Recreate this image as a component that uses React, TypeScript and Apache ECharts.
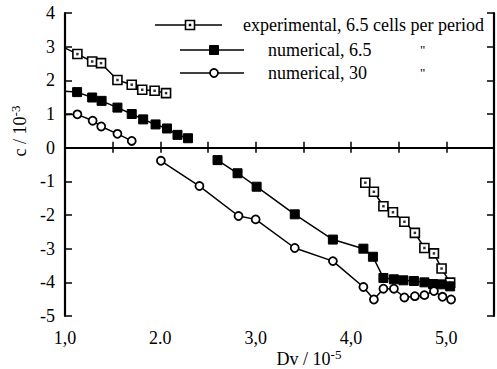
import React, { useEffect, useRef } from "react";
import * as echarts from "echarts";

// Dv / 10^-5 (x) and c / 10^-3 (y)
const expUpper: number[][] = [
  [0.95, 3.03], [1.13, 2.78], [1.285, 2.56], [1.378, 2.51], [1.55, 2.01],
  [1.7, 1.87], [1.81, 1.72], [1.94, 1.69], [2.06, 1.62],
];
const expLower: number[][] = [
  [4.15, -1.04], [4.24, -1.31], [4.34, -1.74], [4.44, -1.92], [4.56, -2.2],
  [4.67, -2.53], [4.77, -2.98], [4.87, -3.14], [4.95, -3.59], [5.04, -4.01],
];
const num65Upper: number[][] = [
  [0.95, 1.68], [1.127, 1.65], [1.285, 1.49], [1.384, 1.39], [1.55, 1.19],
  [1.7, 1.0], [1.82, 0.84], [1.95, 0.69], [2.07, 0.57], [2.18, 0.38], [2.29, 0.28],
];
const num65Lower: number[][] = [
  [2.6, -0.37], [2.81, -0.76], [3.01, -1.16], [3.41, -1.98], [3.81, -2.73],
  [4.13, -3.0], [4.23, -3.24], [4.34, -3.87], [4.45, -3.91], [4.55, -3.94],
  [4.66, -3.96], [4.77, -4.0], [4.86, -4.05], [4.95, -4.06], [5.04, -4.12],
];
const num30Upper: number[][] = [
  [0.95, 0.97], [1.13, 0.99], [1.29, 0.8], [1.38, 0.63], [1.55, 0.41], [1.7, 0.2],
];
const num30Lower: number[][] = [
  [2.006, -0.39], [2.41, -1.14], [2.82, -2.03], [3.0, -2.13], [3.41, -2.98],
  [3.81, -3.37], [4.13, -4.14], [4.24, -4.51], [4.34, -4.19], [4.45, -4.19],
  [4.56, -4.45], [4.67, -4.41], [4.77, -4.38], [4.87, -4.26], [4.96, -4.43], [5.05, -4.51],
];
const xTickLabels: Record<string, string> = { "1": "1,0", "2": "2.0", "3": "3,0", "4": "4,0", "5": "5,0" };
const legendNames = ["experimental, 6.5 cells per period", "numerical, 6.5", "numerical, 30"];

const FONT = "Liberation Serif";

export default function App() {
  const ref = useRef<HTMLDivElement>(null);
  useEffect(() => {
    if (!ref.current) return;
    const chart = echarts.init(ref.current, undefined, { renderer: "svg" });
    const joined = (a: number[][], b: number[][]) => [...a, "-", ...b] as any[];
    const lineBase = {
      type: "line" as const,
      clip: true,
      lineStyle: { color: "#000", width: 1.5 },
      z: 3,
    };
    const ts = (size: number, extra: any = {}) => ({ fill: "#000", fontFamily: FONT, fontSize: size, ...extra });
    chart.setOption({
      animation: false,
      textStyle: { fontFamily: FONT },
      grid: { left: 65, top: 13, bottom: 53, right: -5 },
      xAxis: [
        {
          type: "value", min: 1, max: 5.5, interval: 0.5, position: "bottom",
          axisLine: { lineStyle: { color: "#000", width: 2.2 } },
          axisTick: { inside: true, length: 6, lineStyle: { color: "#000", width: 1.5 } },
          splitLine: { show: false },
          axisLabel: {
            margin: 13, color: "#000", fontFamily: FONT, fontSize: 18,
            formatter: (v: number) => xTickLabels[String(v)] ?? "",
          },
        },
        {
          type: "value", min: 1, max: 5.5, interval: 0.5, position: "top",
          axisLine: { lineStyle: { color: "#000", width: 2.2 } },
          axisTick: { inside: true, length: 5, lineStyle: { color: "#000", width: 1.5 } },
          splitLine: { show: false }, axisLabel: { show: false },
        },
      ],
      yAxis: [
        {
          type: "value", min: -5, max: 4, interval: 1, position: "left",
          axisLine: { lineStyle: { color: "#000", width: 2.2 } },
          axisTick: { inside: true, length: 7, lineStyle: { color: "#000", width: 1.5 } },
          splitLine: { show: false },
          axisLabel: { margin: 10, color: "#000", fontFamily: FONT, fontSize: 18 },
        },
        {
          type: "value", min: -5, max: 4, interval: 1, position: "right",
          axisLine: { lineStyle: { color: "#000", width: 2.2 } },
          axisTick: { inside: true, length: 7, lineStyle: { color: "#000", width: 1.5 } },
          splitLine: { show: false }, axisLabel: { show: false },
        },
      ],
      series: [
        {
          ...lineBase, name: legendNames[0], data: joined(expUpper, expLower),
          symbol: "rect", symbolSize: 9,
          itemStyle: { color: "#fff", borderColor: "#000", borderWidth: 1.6 },
          markLine: {
            silent: true, symbol: "none", label: { show: false },
            lineStyle: { color: "#000", width: 1.8, type: "solid" },
            data: [{ yAxis: 0 }],
          },
        },
        {
          type: "scatter", data: [...expUpper, ...expLower], symbol: "rect", symbolSize: 2.5,
          itemStyle: { color: "#000" }, clip: true, z: 4,
        },
        {
          ...lineBase, name: legendNames[1], data: joined(num65Upper, num65Lower),
          symbol: "rect", symbolSize: 9,
          itemStyle: { color: "#000", borderColor: "#000", borderWidth: 1 },
        },
        {
          ...lineBase, name: legendNames[2], data: joined(num30Upper, num30Lower),
          symbol: "circle", symbolSize: 8,
          itemStyle: { color: "#fff", borderColor: "#000", borderWidth: 1.8 },
        },
      ],
      graphic: [
        { type: "line", shape: { x1: 155, y1: 25, x2: 222, y2: 25 }, style: { stroke: "#000", lineWidth: 1.5 } },
        { type: "rect", shape: { x: 185.5, y: 20.5, width: 9, height: 9 }, style: { fill: "#fff", stroke: "#000", lineWidth: 1.6 } },
        { type: "rect", shape: { x: 188.75, y: 23.75, width: 2.5, height: 2.5 }, style: { fill: "#000" } },
        { type: "text", x: 243, y: 25, style: ts(18, { text: legendNames[0], verticalAlign: "middle" }) },
        { type: "line", shape: { x1: 180, y1: 50, x2: 244, y2: 50 }, style: { stroke: "#000", lineWidth: 1.5 } },
        { type: "rect", shape: { x: 209.5, y: 45.5, width: 9, height: 9 }, style: { fill: "#000", stroke: "#000", lineWidth: 1 } },
        { type: "text", x: 268, y: 50, style: ts(18, { text: legendNames[1], verticalAlign: "middle" }) },
        { type: "text", x: 420, y: 49, style: ts(13, { text: '"', verticalAlign: "middle" }) },
        { type: "line", shape: { x1: 180, y1: 73, x2: 244, y2: 73 }, style: { stroke: "#000", lineWidth: 1.5 } },
        { type: "circle", shape: { cx: 214, cy: 73, r: 4 }, style: { fill: "#fff", stroke: "#000", lineWidth: 1.8 } },
        { type: "text", x: 268, y: 73, style: ts(18, { text: legendNames[2], verticalAlign: "middle" }) },
        { type: "text", x: 420, y: 72, style: ts(13, { text: '"', verticalAlign: "middle" }) },
        {
          type: "text", x: 20, y: 131, rotation: Math.PI / 2,
          style: ts(18, {
            text: "c / 10{s|-3}", align: "center", verticalAlign: "middle",
            rich: { s: { fontSize: 13, fontFamily: FONT, verticalAlign: "bottom", padding: [0, 0, 10, 0] } },
          }),
        },
        {
          type: "text", x: 309, y: 359,
          style: ts(18, {
            text: "Dv / 10{s|-5}", align: "center", verticalAlign: "middle",
            rich: { s: { fontSize: 13, fontFamily: FONT, verticalAlign: "bottom", padding: [0, 0, 10, 0] } },
          }),
        },
      ],
    });
    return () => chart.dispose();
  }, []);
  return <div ref={ref} style={{ position: "absolute", left: 0, top: 0, width: 497, height: 369 }} />;
}
